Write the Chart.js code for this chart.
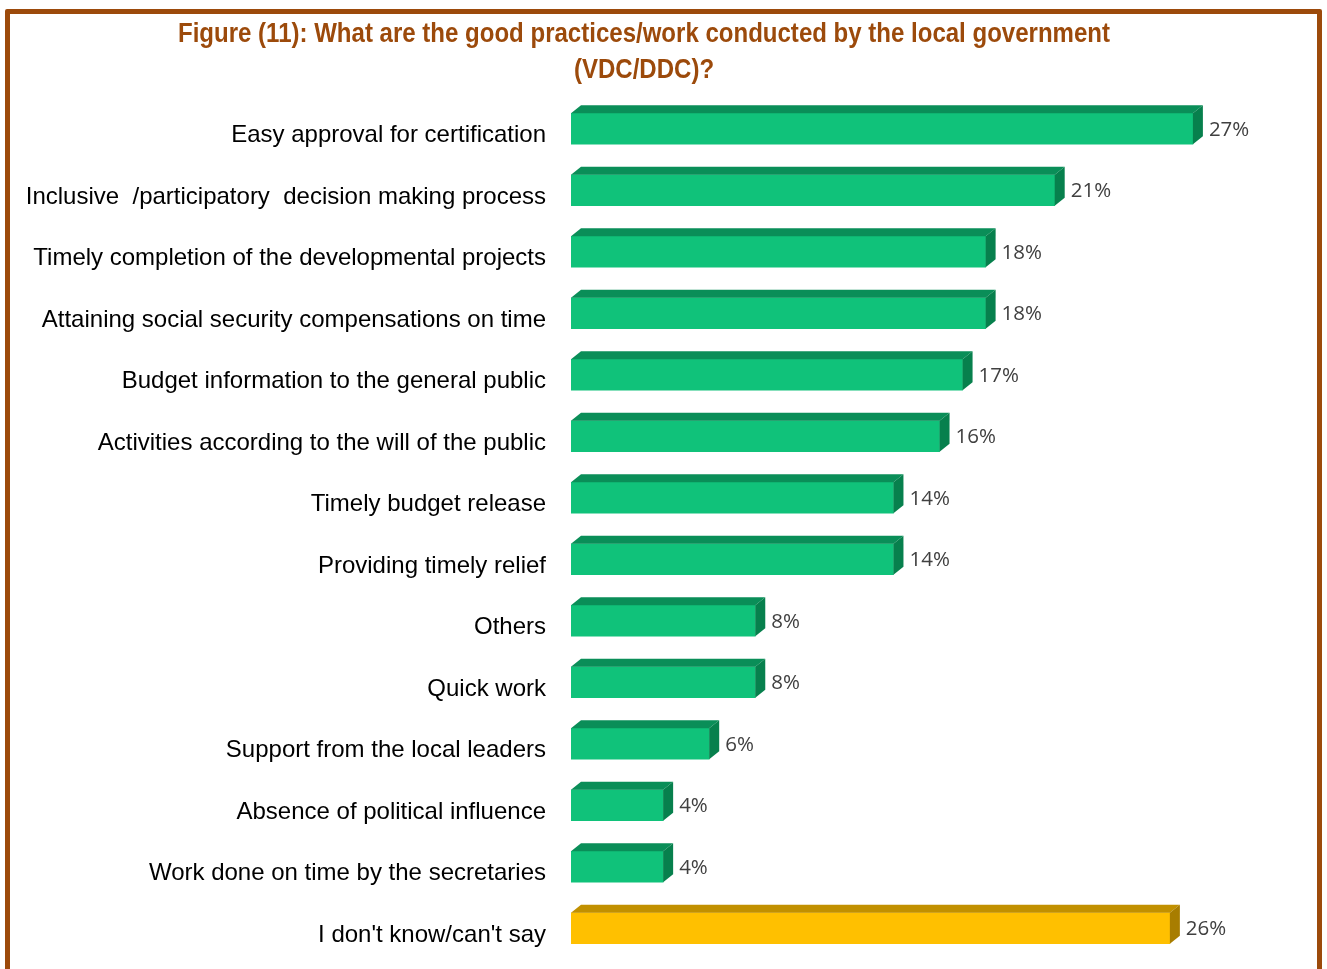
<!DOCTYPE html>
<html lang="en">
<head>
  <meta charset="UTF-8">
  <title>Figure (11): Good practices of the local government</title>
  <script src="https://cdn.jsdelivr.net/npm/chart.js@4.4.0/dist/chart.umd.min.js"></script>
  <style>
    body {
      margin: 0;
      background: #fff;
      overflow: hidden;
    }
    .frame {
      position: absolute;
      left: 5px;
      top: 9px;
      width: 1307px;
      height: 1000px;
      border: 5px solid #9C4A0B;
      border-radius: 2px;
    }
    .wrap {
      position: absolute;
      left: 0;
      top: 0;
      width: 1327px;
      height: 969px;
    }
  </style>
</head>
<body>
  <div class="frame"></div>
  <div class="wrap"><canvas id="practicesChart"></canvas></div>

  <script>
    const titleLines = [
      'Figure (11): What are the good practices/work conducted by the local government',
      '(VDC/DDC)?'
    ];
    const categories = [
      'Easy approval for certification',
      'Inclusive  /participatory  decision making process',
      'Timely completion of the developmental projects',
      'Attaining social security compensations on time',
      'Budget information to the general public',
      'Activities according to the will of the public',
      'Timely budget release',
      'Providing timely relief',
      'Others',
      'Quick work',
      'Support from the local leaders',
      'Absence of political influence',
      'Work done on time by the secretaries',
      "I don't know/can't say"
    ];
    const percents = [27, 21, 18, 18, 17, 16, 14, 14, 8, 8, 6, 4, 4, 26];

    // front / top / side shades for the 3D boxes
    const green = { front: '#10C27A', top: '#0A8E58', side: '#07804D' };
    const gold = { front: '#FFC000', top: '#C19000', side: '#A87D00' };
    const shadeFor = i => (i === categories.length - 1 ? gold : green);

    const DX = 10;  // depth offset to the right
    const DY = 8;   // depth offset upwards

    const bar3d = {
      id: 'bar3d',
      afterDatasetsDraw(chart) {
        const ctx = chart.ctx;
        const meta = chart.getDatasetMeta(0);
        meta.data.forEach((bar, i) => {
          const { x, y, base, height } = bar.getProps(['x', 'y', 'base', 'height'], true);
          const top = y - height / 2;
          const bottom = y + height / 2;
          const c = shadeFor(i);
          ctx.save();
          // top face
          ctx.beginPath();
          ctx.moveTo(base, top);
          ctx.lineTo(base + DX, top - DY);
          ctx.lineTo(x + DX, top - DY);
          ctx.lineTo(x, top);
          ctx.closePath();
          ctx.fillStyle = c.top;
          ctx.fill();
          // side face
          ctx.beginPath();
          ctx.moveTo(x, top);
          ctx.lineTo(x + DX, top - DY);
          ctx.lineTo(x + DX, bottom - DY);
          ctx.lineTo(x, bottom);
          ctx.closePath();
          ctx.fillStyle = c.side;
          ctx.fill();
          // value label
          ctx.fillStyle = '#404040';
          ctx.font = '20.5px "Open Sans", sans-serif';
          ctx.textAlign = 'left';
          ctx.textBaseline = 'middle';
          ctx.fillText(percents[i] + '%', x + DX + 6, y + 1);
          ctx.restore();
        });
      }
    };

    // bold title in a narrowed sans face (horizontal squeeze of Liberation Sans Bold)
    const narrowTitle = {
      id: 'narrowTitle',
      afterDraw(chart) {
        const ctx = chart.ctx;
        const cx = 644;
        ctx.save();
        ctx.fillStyle = '#9C4A0B';
        ctx.font = 'bold 27px "Liberation Sans", Arial, sans-serif';
        ctx.textAlign = 'center';
        ctx.textBaseline = 'alphabetic';
        titleLines.forEach((line, k) => {
          ctx.save();
          ctx.translate(cx, 42 + k * 35.5);
          ctx.scale(0.89, 1);
          ctx.fillText(line, 0, 0);
          ctx.restore();
        });
        ctx.restore();
      }
    };

    new Chart(document.getElementById('practicesChart'), {
      type: 'bar',
      data: {
        labels: categories,
        datasets: [{
          data: percents,
          backgroundColor: ctx => shadeFor(ctx.dataIndex).front,
          borderWidth: 0,
          barThickness: 31
        }]
      },
      options: {
        indexAxis: 'y',
        responsive: true,
        maintainAspectRatio: false,
        animation: false,
        layout: { padding: { top: 98, right: 65, bottom: 10, left: 0 } },
        plugins: {
          legend: { display: false },
          tooltip: { enabled: false },
          title: { display: false }
        },
        scales: {
          x: { display: false, min: 0, max: 30 },
          y: {
            grid: { display: false, drawTicks: false },
            border: { display: false },
            ticks: {
              color: '#000',
              font: { family: '"Liberation Sans", Arial, sans-serif', size: 24 },
              padding: 25,
              labelOffset: 7,
              autoSkip: false
            },
            afterFit(scale) {
              scale.width = 571;
              scale.paddingTop = 0;
              scale.paddingBottom = 0;
            }
          }
        }
      },
      plugins: [bar3d, narrowTitle]
    });
  </script>
</body>
</html>
